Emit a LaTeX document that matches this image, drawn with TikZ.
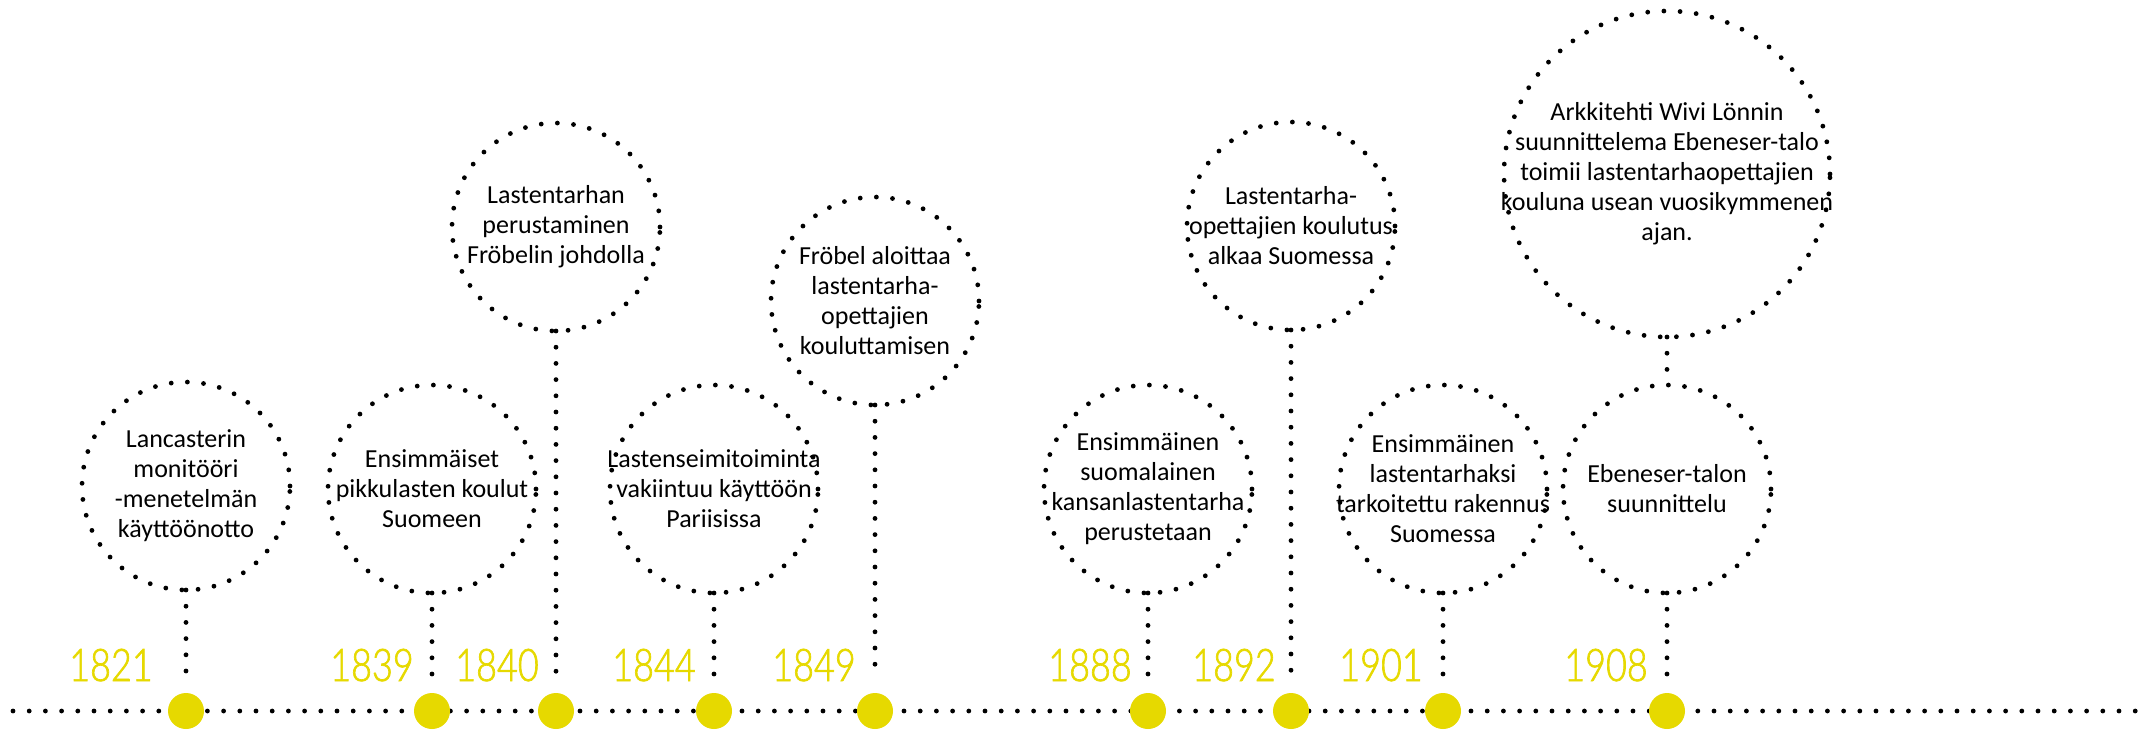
\documentclass[tikz,border=0pt]{standalone}
\usepackage{fontspec}
\setmainfont{Carlito}
\newfontfamily\yearfont{Lato Light}[FakeStretch=0.8,FakeBold=1.5]
\definecolor{tlyellow}{RGB}{230,217,0}
\begin{document}
\begin{tikzpicture}[x=1pt,y=-1pt,
  dots/.style={line width=4.8pt, line cap=round, dash pattern=on 0pt off 16.2pt},
  ring/.style={circle, draw, dots, minimum size=#1, inner sep=0pt, outer sep=0pt},
  ring/.default=208pt,
  marker/.style={circle, fill=tlyellow, minimum size=36pt, inner sep=0pt, outer sep=0pt},
  txt/.style={align=center, font=\fontsize{26}{30}\selectfont, inner sep=0pt, text=black},
  year/.style={font=\yearfont\fontsize{45}{45}\selectfont, text=tlyellow, anchor=base, inner sep=0pt},
  stem/.style={dots, shorten >=16pt}]
\useasboundingbox (0,0) rectangle (2143,729);

% timeline
\coordinate (tlL) at (13,711);
\coordinate (tlR) at (2143,711);
\draw[dots] (tlL) -- (tlR);

% circles
\node[ring] (c1) at (186,486) {};
\node[ring] (c2) at (432,489) {};
\node[ring] (c3) at (556,227) {};
\node[ring] (c4) at (714,489) {};
\node[ring] (c5) at (875,301) {};
\node[ring] (c6) at (1148,489) {};
\node[ring] (c7) at (1291,226) {};
\node[ring] (c8) at (1443,489) {};
\node[ring] (c9) at (1667,489) {};
\node[ring=326pt] (c10) at (1667,174) {};

% markers
\node[marker] (m1) at (186,711) {};
\node[marker] (m2) at (432,711) {};
\node[marker] (m3) at (556,711) {};
\node[marker] (m4) at (714,711) {};
\node[marker] (m5) at (875,711) {};
\node[marker] (m6) at (1148,711) {};
\node[marker] (m7) at (1291,711) {};
\node[marker] (m8) at (1443,711) {};
\node[marker] (m9) at (1667,711) {};

% stems
\draw[stem] (c1.south) -- (m1.north);
\draw[stem] (c2.south) -- (m2.north);
\draw[stem] (c3.south) -- (m3.north);
\draw[stem] (c4.south) -- (m4.north);
\draw[stem] (c5.south) -- (m5.north);
\draw[stem] (c6.south) -- (m6.north);
\draw[stem] (c7.south) -- (m7.north);
\draw[stem] (c8.south) -- (m8.north);
\draw[stem] (c9.south) -- (m9.north);
\draw[dots] (c10.south) -- (c9.north);

% texts
\node[txt] (t1) at (c1) {Lancasterin\\monitööri\\-menetelmän\\käyttöönotto};
\node[txt] (t2) at (c2) {Ensimmäiset\\pikkulasten koulut\\Suomeen};
\node[txt] (t3) at (c3) {Lastentarhan\\perustaminen\\Fröbelin johdolla};
\node[txt] (t4) at (c4) {Lastenseimitoiminta\\vakiintuu käyttöön\\Pariisissa};
\node[txt] (t5) at (c5) {Fröbel aloittaa\\lastentarha-\\opettajien\\kouluttamisen};
\node[txt] (t6) at (c6) {Ensimmäinen\\suomalainen\\kansanlastentarha\\perustetaan};
\node[txt] (t7) at (c7) {Lastentarha-\\opettajien koulutus\\alkaa Suomessa};
\node[txt] (t8) at (c8) {Ensimmäinen\\lastentarhaksi\\tarkoitettu rakennus\\Suomessa};
\node[txt] (t9) at (c9) {Ebeneser-talon\\suunnittelu};
\node[txt] (t10) at (c10) {Arkkitehti Wivi Lönnin\\suunnittelema Ebeneser-talo\\toimii lastentarhaopettajien\\kouluna usean vuosikymmenen\\ajan.};

% years
\node[year] (y1) at (111,681) {1821};
\node[year] (y2) at (372,681) {1839};
\node[year] (y3) at (497,681) {1840};
\node[year] (y4) at (654,681) {1844};
\node[year] (y5) at (814,681) {1849};
\node[year] (y6) at (1090,681) {1888};
\node[year] (y7) at (1234,681) {1892};
\node[year] (y8) at (1381,681) {1901};
\node[year] (y9) at (1606,681) {1908};
\end{tikzpicture}
\end{document}
